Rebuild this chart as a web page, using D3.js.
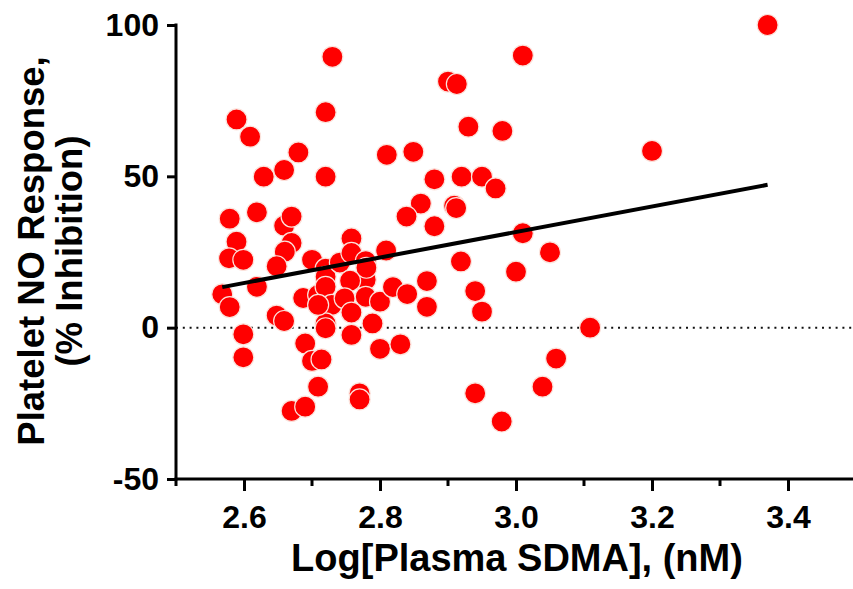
<!DOCTYPE html>
<html><head><meta charset="utf-8">
<script src="https://cdn.jsdelivr.net/npm/d3@7"></script>
<style>
html,body{margin:0;padding:0;background:#fff;}
svg{display:block;font-family:"Liberation Sans",Arial,sans-serif;}
</style></head>
<body><svg id="chart" width="853" height="589"></svg>
<script>
// Log[Plasma SDMA] (nM) values
const sdma = [3.37,3.20,3.01,2.90,2.913,2.93,2.98,2.81,2.849,2.88,2.92,2.95,2.97,2.86,2.909,2.912,2.839,2.88,
  2.73,2.589,2.609,2.72,2.68,2.659,2.629,2.72,2.579,2.619,2.659,2.67,2.589,2.578,2.599,2.67,2.66,2.648,
  2.70,2.72,2.72,2.741,2.758,2.758,2.779,2.779,2.78,2.809,2.756,2.619,2.568,2.579,2.687,2.709,2.72,2.729,
  2.748,2.758,2.779,2.80,2.789,2.819,2.648,2.659,2.72,2.72,2.709,2.599,2.599,2.69,2.70,2.714,2.709,2.67,
  2.69,2.77,2.77,2.758,2.80,2.83,2.84,2.869,2.869,2.94,2.95,2.919,3.01,3.05,3.00,3.109,3.059,3.039,2.94,2.979];
// Platelet NO response (% inhibition)
const inhibition = [100,58.4,89.9,81.3,80.5,66.4,65.0,57.1,58.1,49.0,49.9,49.9,46.0,41.0,40.3,39.5,36.7,33.5,
  89.5,68.8,63.1,71.2,57.9,52.1,49.9,49.9,36.0,38.1,33.7,36.7,28.4,22.9,22.4,28.0,25.1,20.3,
  22.4,19.5,16.8,21.5,29.5,24.7,22.0,15.8,19.8,25.5,15.5,13.5,11.0,6.8,9.8,10.8,13.5,7.5,
  9.7,5.0,10.2,8.6,1.4,13.4,4.0,2.2,1.4,-0.2,7.5,-2.2,-9.8,-5.2,-11,-10.5,-19.5,-27.5,
  -26.1,-21.7,-23.7,-2.4,-7.0,-5.5,11.1,15.4,6.9,12.1,5.3,21.9,31.2,24.9,18.5,0,-10.2,-19.5,-21.7,-31];
// Linear fit end points
const fitX = [2.568, 3.37];
const fitY = [13.4, 47.2];
const xTicks = [2.6, 2.8, 3.0, 3.2, 3.4];
const xTickLabels = ["2.6", "2.8", "3.0", "3.2", "3.4"];
const xMinorTicks = [2.5, 2.7, 2.9, 3.1, 3.3, 3.5];
const yTicks = [-50, 0, 50, 100];
const yTickLabels = ["-50", "0", "50", "100"];
const xTitle = "Log[Plasma SDMA], (nM)";
const yTitle = ["Platelet NO Response,", "(% Inhibition)"];

const svg = d3.select("#chart");
const x = d3.scaleLinear().domain([2.5, 3.5]).range([176, 856]);
const y = d3.scaleLinear().domain([-50, 100]).range([479, 25]);

// zero reference dotted line
svg.append("line")
  .attr("x1", x(2.5)).attr("x2", 853)
  .attr("y1", y(0)).attr("y2", y(0))
  .attr("stroke", "#111").attr("stroke-width", 2)
  .attr("stroke-dasharray", "2 4.8");

// points
const pts = sdma.map((v, i) => ({x: v, y: inhibition[i]}));
svg.append("g").selectAll("circle").data(pts).join("circle")
  .attr("cx", d => x(d.x)).attr("cy", d => y(d.y)).attr("r", 10.5)
  .attr("fill", "#ff0000").attr("stroke", "#fbe3dc").attr("stroke-width", 1.2);

// regression line
svg.append("line")
  .attr("x1", x(fitX[0])).attr("y1", y(fitY[0]))
  .attr("x2", x(fitX[1])).attr("y2", y(fitY[1]))
  .attr("stroke", "#000").attr("stroke-width", 4);

// x axis
const gx = svg.append("g").attr("transform", `translate(0,${y(-50)})`);
gx.call(d3.axisBottom(x).tickValues(xTicks).tickFormat((d, i) => xTickLabels[i])
  .tickSizeInner(12).tickSizeOuter(0).tickPadding(14));
gx.select(".domain").remove();
gx.append("line").attr("x1", x(2.5) - 1.5).attr("x2", 853).attr("y1", 0).attr("y2", 0)
  .attr("stroke", "#000").attr("stroke-width", 3);
gx.selectAll(".tick line").attr("stroke", "#000").attr("stroke-width", 3);
gx.selectAll(".tick text").attr("fill", "#000").style("font-size", "32px").style("font-weight", "bold");
const gxm = svg.append("g").attr("transform", `translate(0,${y(-50)})`);
gxm.selectAll("line").data(xMinorTicks).join("line")
  .attr("x1", d => x(d)).attr("x2", d => x(d)).attr("y1", 0).attr("y2", 7)
  .attr("stroke", "#000").attr("stroke-width", 3);

// y axis
const gy = svg.append("g").attr("transform", `translate(${x(2.5)},0)`);
gy.call(d3.axisLeft(y).tickValues(yTicks).tickFormat((d, i) => yTickLabels[i])
  .tickSizeInner(9).tickSizeOuter(0).tickPadding(8));
gy.select(".domain").remove();
gy.append("line").attr("x1", 0).attr("x2", 0).attr("y1", y(100) - 1.5).attr("y2", y(-50) + 1.5)
  .attr("stroke", "#000").attr("stroke-width", 3);
gy.selectAll(".tick line").attr("stroke", "#000").attr("stroke-width", 3);
gy.selectAll(".tick text").attr("fill", "#000").style("font-size", "32px").style("font-weight", "bold");

// titles
svg.append("text").attr("x", 517).attr("y", 571).attr("text-anchor", "middle")
  .style("font-size", "38px").style("font-weight", "bold").text(xTitle);
const yt = svg.append("text").attr("transform", "translate(0,251) rotate(-90)")
  .attr("text-anchor", "middle").style("font-size", "36.5px").style("font-weight", "bold");
yt.append("tspan").attr("x", 0).attr("y", 44).text(yTitle[0]);
yt.append("tspan").attr("x", 0).attr("y", 82).text(yTitle[1]);
</script></body></html>
